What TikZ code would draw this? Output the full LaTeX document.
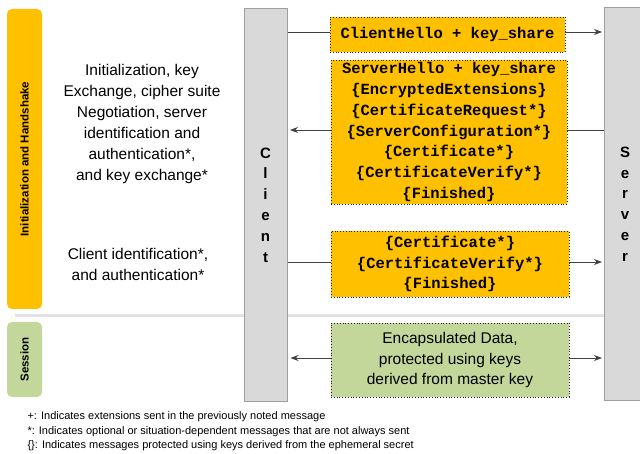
\documentclass[tikz,border=0pt]{standalone}
\usepackage{fontspec}
\setmainfont{Liberation Sans}
\setmonofont{Liberation Mono}
\usetikzlibrary{arrows.meta, positioning}
\definecolor{tlsorange}{RGB}{255,192,0}
\definecolor{tlsgreen}{RGB}{196,215,155}
\definecolor{barfill}{RGB}{217,217,217}
\definecolor{barline}{RGB}{160,160,160}
\definecolor{msgline}{RGB}{64,64,64}
\tikzset{orangemsgnode/.style={rectangle, fill=tlsorange, draw=black!85, dotted, line width=0.8pt, inner sep=1pt, align=center, font=\ttfamily\bfseries\fontsize{15.5}{20.8}\selectfont},greenmsgnode/.style={rectangle, fill=tlsgreen, draw=black!85, dotted, line width=0.8pt, inner sep=1pt, align=center, font=\fontsize{15.5}{20.6}\selectfont}}
\tikzset{lifelinenode/.style={rectangle, fill=barfill, draw=barline, line width=1pt, minimum width=43pt, minimum height=392pt, align=center, font=\bfseries\fontsize{15}{20.8}\selectfont},phasenode/.style={rectangle, rounded corners=5pt, rotate=90, minimum height=35pt, font=\bfseries\fontsize{11.5}{13}\selectfont}}

\begin{document}
\begin{tikzpicture}[
        x=1pt, y=-1pt,
        msgarrow/.style={draw=msgline, line width=0.9pt, -{Stealth[length=8pt, width=6pt]}},
        msgstub/.style={draw=msgline, line width=0.9pt},
        sidetext/.style={align=center, font=\fontsize{15.5}{21}\selectfont},
        notetext/.style={anchor=west, font=\fontsize{11}{13}\selectfont}
    ]
        \useasboundingbox (0,0) rectangle (640,454);
        % Separator
        \draw[gray!22, line width=3pt] (15,316) -- (604,316);
        % Phases
        \node[phasenode, fill=tlsorange, minimum width=300pt] (handshake) at (24.5,159) {Initialization and Handshake};
        \node[phasenode, fill=tlsgreen, minimum width=75pt] (session) at (24.5,359.5) {Session};
        % Lifelines
        \node[lifelinenode] (client) at (265.5,205) {C\\l\\i\\e\\n\\t};
        \node[lifelinenode, minimum width=42pt] (server) at (625,204) {S\\e\\r\\v\\e\\r};
        % Messages
        \node[orangemsgnode, minimum width=235pt, minimum height=35pt] (hello) at (447.5,34.5) {ClientHello + key\_share};
        \node[orangemsgnode, minimum width=236pt, minimum height=144pt] (shello) at (449,132) {ServerHello + key\_share\\\{EncryptedExtensions\}\\\{CertificateRequest*\}\\\{ServerConfiguration*\}\\\{Certificate*\}\\\{CertificateVerify*\}\\\{Finished\}};
        \node[orangemsgnode, minimum width=238pt, minimum height=66pt] (cfinish) at (450,264) {\{Certificate*\}\\\{CertificateVerify*\}\\\{Finished\}};
        \node[greenmsgnode, minimum width=238pt, minimum height=74pt] (data) at (450,360) {Encapsulated Data,\\protected using keys\\derived from master key};
        % Arrows
        \draw[msgstub] ([yshift=2.5pt]client.east |- hello.west) -- ([yshift=2.5pt]hello.west);
        \draw[msgarrow, shorten >=1.5pt] ([yshift=2.5pt]hello.east) -- ([yshift=2.5pt]server.west |- hello.east);
        \draw[msgstub] ([yshift=2pt]server.west |- shello.east) -- ([yshift=2pt]shello.east);
        \draw[msgarrow, shorten >=2.5pt] ([yshift=2pt]shello.west) -- ([yshift=2pt]client.east |- shello.west);
        \draw[msgstub] ([yshift=2pt]client.east |- cfinish.west) -- ([yshift=2pt]cfinish.west);
        \draw[msgarrow, shorten >=1.5pt] ([yshift=2pt]cfinish.east) -- ([yshift=2pt]server.west |- cfinish.east);
        \draw[msgarrow, shorten >=3pt] ([yshift=2pt]data.west) -- ([yshift=2pt]client.east |- data.west);
        \draw[msgarrow, shorten >=1.5pt] ([yshift=2pt]data.east) -- ([yshift=2pt]server.west |- data.east);
        % Phase descriptions
        \node[sidetext] (shellotext) at (142,124) {Initialization, key\\Exchange, cipher suite\\Negotiation, server\\identification and\\authentication*,\\ and key exchange*};
        \node[sidetext] (cfinishtext) at (138,264.5) {Client identification*,\\and authentication*};
        % Notes
        \foreach \i/\notetxt in {
            1/{+: Indicates extensions sent in the previously noted message},
            2/{*: Indicates optional or situation-dependent messages that are not always sent},
            3/{\{\}: Indicates messages protected using keys derived from the ephemeral secret}} {
            \node[notetext] (note\i) at (24,{402.5+14.5*\i}) {\notetxt};
        }
    \end{tikzpicture}
\end{document}
